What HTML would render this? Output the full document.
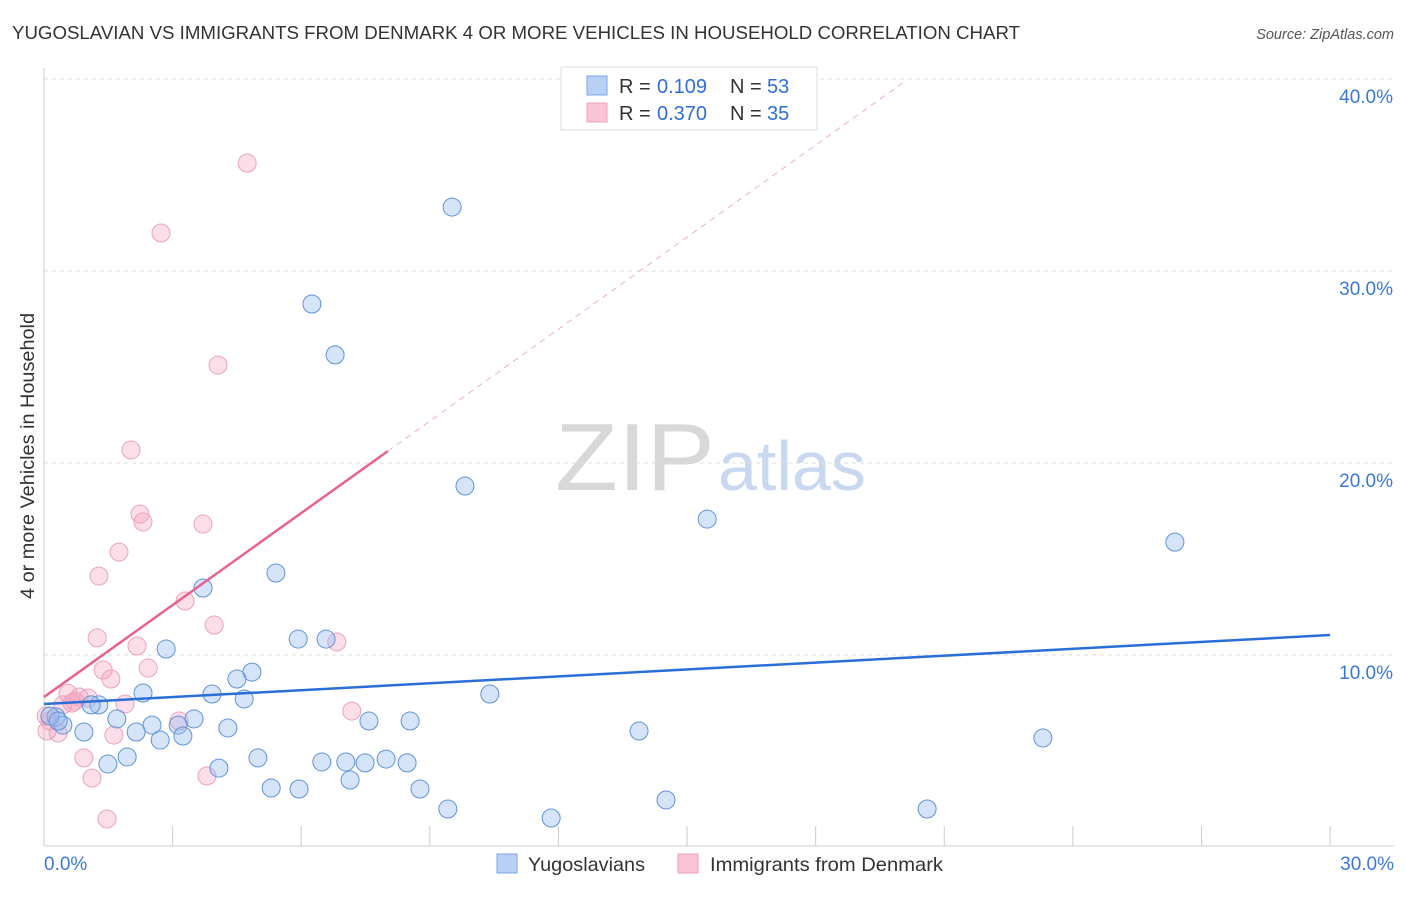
<!DOCTYPE html>
<html><head><meta charset="utf-8"><style>
body{margin:0;background:#fff;font-family:"Liberation Sans",sans-serif;}
svg text{font-family:"Liberation Sans",sans-serif;}
</style></head><body>
<svg id="chart" width="1406" height="892" xmlns="http://www.w3.org/2000/svg">
<text x="12" y="39" font-size="18" fill="#333" textLength="1008" lengthAdjust="spacingAndGlyphs">YUGOSLAVIAN VS IMMIGRANTS FROM DENMARK 4 OR MORE VEHICLES IN HOUSEHOLD CORRELATION CHART</text>
<text x="1394" y="39" font-size="14.5" fill="#555" text-anchor="end" font-style="italic">Source: ZipAtlas.com</text>
<text x="555" y="490" font-size="96" fill="#d8d8d8" font-family="Liberation Serif" textLength="160" lengthAdjust="spacingAndGlyphs">ZIP</text>
<text x="718" y="490" font-size="70" fill="#c8d8f0">atlas</text>
<text transform="translate(34,456) rotate(-90)" font-size="19" fill="#333" text-anchor="middle" textLength="286" lengthAdjust="spacingAndGlyphs">4 or more Vehicles in Household</text>
<g id="grid"></g><g id="pts"></g><g id="lines"></g>
<g>
<rect x="561" y="67" width="256" height="63" fill="#fff" stroke="#ddd"/>
<rect x="587" y="76" width="20" height="19" fill="#b8d0f4" stroke="#7aa5e4"/>
<rect x="587" y="103" width="20" height="19" fill="#f9c5d5" stroke="#eda0b9"/>
<text x="619" y="93" font-size="20" fill="#333">R =</text>
<text x="657" y="93" font-size="20" fill="#2f6fd6">0.109</text>
<text x="730" y="93" font-size="20" fill="#333">N =</text>
<text x="767" y="93" font-size="20" fill="#2f6fd6">53</text>
<text x="619" y="120" font-size="20" fill="#333">R =</text>
<text x="657" y="120" font-size="20" fill="#2f6fd6">0.370</text>
<text x="730" y="120" font-size="20" fill="#333">N =</text>
<text x="767" y="120" font-size="20" fill="#2f6fd6">35</text>
</g>
<g>
<rect x="497" y="854" width="20" height="19" fill="#b8d0f4" stroke="#7aa5e4"/>
<text x="528" y="871" font-size="19.5" fill="#333" textLength="117" lengthAdjust="spacingAndGlyphs">Yugoslavians</text>
<rect x="678" y="854" width="20" height="19" fill="#f9c5d5" stroke="#eda0b9"/>
<text x="710" y="871" font-size="19.5" fill="#333" textLength="233" lengthAdjust="spacingAndGlyphs">Immigrants from Denmark</text>
</g>
</svg>
<script>
const yTicks=[10,20,30,40];
const xTickLabels=["0.0%","30.0%"];
const blueX=[9.52,6.25,6.79,9.82,15.47,26.38,5.41,3.71,5.93,6.58,2.85,4.85,4.5,2.31,3.92,4.67,10.4,1.28,1.1,0.28,1.7,3.5,7.58,8.54,2.52,3.13,4.29,0.44,0.93,2.15,13.88,23.3,2.71,3.24,1.94,4.99,1.49,4.08,6.48,7.04,7.49,7.98,8.47,7.14,5.3,5.95,8.77,14.51,9.42,20.6,11.83,0.14,0.33];
const blueY=[33.33,28.28,25.63,18.8,17.08,15.88,14.27,13.49,10.83,10.83,10.31,9.11,8.75,8.02,7.97,7.71,7.97,7.4,7.4,6.77,6.67,6.67,6.56,6.56,6.35,6.35,6.2,6.35,5.99,5.99,6.04,5.68,5.57,5.78,4.69,4.64,4.32,4.11,4.43,4.43,4.38,4.58,4.38,3.49,3.07,3.02,3.02,2.45,1.98,1.98,1.51,6.82,6.56];
const pinkX=[4.74,2.73,4.06,2.03,2.24,2.31,3.71,1.75,1.28,3.29,3.97,1.24,6.83,2.17,2.43,1.38,1.56,0.56,0.82,1.03,0.65,1.89,0.44,3.15,7.18,0.05,0.07,0.33,1.63,0.93,1.12,3.8,1.47,0.14,0.72];
const pinkY=[35.62,31.98,25.10,20.68,17.34,16.93,16.82,15.36,14.11,12.81,11.56,10.89,10.68,10.47,9.32,9.22,8.75,8.0,7.81,7.76,7.5,7.45,7.4,6.56,7.08,6.82,6.04,5.94,5.83,4.64,3.59,3.70,1.46,6.56,7.6];
const blueLine=[7.45,11.04];
const pinkIntercept=7.81, pinkSlope=1.597, pinkSolidEnd=8.02, pinkDashEnd=20.08;
const NS="http://www.w3.org/2000/svg";
const X=v=>44+v*42.87, Y=v=>847-v*19.2;
function mk(t,a,p){const e=document.createElementNS(NS,t);for(const k in a)e.setAttribute(k,a[k]);p.appendChild(e);return e;}
const grid=document.getElementById('grid');
mk('line',{x1:44,y1:68,x2:44,y2:846,stroke:'#ccc'},grid);
mk('line',{x1:44,y1:846,x2:1394,y2:846,stroke:'#ccc'},grid);
yTicks.forEach(t=>{const l=mk('line',{x1:44,y1:Y(t),x2:1394,y2:Y(t),stroke:'#ddd','stroke-dasharray':'4,4'},grid);


const tx=mk('text',{x:1393,y:Y(t)+24,'font-size':19,fill:'#3b78d8','text-anchor':'end'},grid);tx.textContent=t.toFixed(1)+'%';

});
for(let i=1;i<=10;i++){mk('line',{x1:X(i*3),y1:826,x2:X(i*3),y2:846,stroke:'#ccc'},grid);}
const a=mk('text',{x:44,y:870,'font-size':19,fill:'#3b78d8'},grid);a.textContent=xTickLabels[0];


const b=mk('text',{x:1394,y:870,'font-size':19,fill:'#3b78d8','text-anchor':'end'},grid);b.textContent=xTickLabels[1];


const pts=document.getElementById('pts');
pinkX.forEach((v,i)=>{const c=mk('circle',{cx:X(v),cy:Y(pinkY[i]),r:9,fill:'rgba(244,160,188,0.35)',stroke:'#eca2ba','stroke-width':1},pts);

});
blueX.forEach((v,i)=>{const c=mk('circle',{cx:X(v),cy:Y(blueY[i]),r:9,fill:'rgba(150,188,238,0.4)',stroke:'#5f93dc','stroke-width':1},pts);

});
const lines=document.getElementById('lines');
const bl=mk('line',{x1:X(0),y1:Y(blueLine[0]),x2:X(30),y2:Y(blueLine[1]),stroke:'#2a6fd6','stroke-width':2.5},lines);


const pl=mk('line',{x1:X(0),y1:Y(pinkIntercept),x2:X(pinkSolidEnd),y2:Y(pinkIntercept+pinkSlope*pinkSolidEnd),stroke:'#e8628f','stroke-width':2.5},lines);


const pd=mk('line',{x1:X(pinkSolidEnd),y1:Y(pinkIntercept+pinkSlope*pinkSolidEnd),x2:X(pinkDashEnd),y2:Y(pinkIntercept+pinkSlope*pinkDashEnd),stroke:'#eeb0c4','stroke-width':1,'stroke-dasharray':'6,5'},lines);


</script>
</body></html>
